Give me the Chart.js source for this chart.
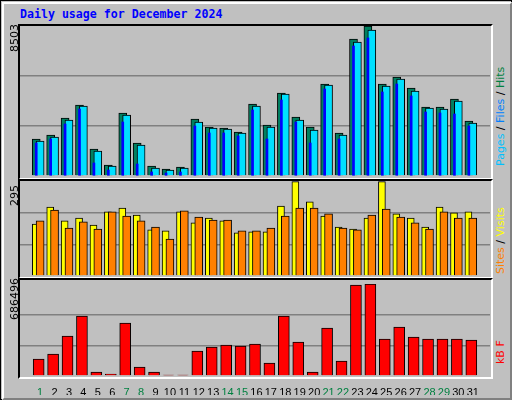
<!DOCTYPE html>
<html>
<head>
<meta charset="utf-8">
<script src="https://cdn.jsdelivr.net/npm/chart.js@4.4.1/dist/chart.umd.min.js"></script>
<style>
  body { margin: 0; background: #fff; }
  #frame { position: absolute; left: 0; top: 0; width: 510px; height: 398px; background: #c0c0c0;
           border: 1px solid #000; }
  #inner { position: absolute; left: 1px; top: 1px; width: 506px; height: 394px;
           border-top: 2px solid #fff; border-left: 2px solid #fff;
           border-right: 2px solid #808080; border-bottom: 2px solid #808080; }
  canvas { position: absolute; }
  .panel { position: absolute; border-top: 2px solid #000; border-left: 2px solid #000;
           border-right: 2px solid #fff; border-bottom: 2px solid #fff; box-sizing: border-box; }
  .txt { position: absolute; font-family: "DejaVu Sans", sans-serif; font-size: 11px; white-space: nowrap;
         transform-origin: 0 0; transform: rotate(-90deg); }
  #title { position: absolute; left: 20px; top: 7px; font-family: "DejaVu Sans Mono", monospace;
           font-weight: bold; font-size: 11.6px; color: #0000ff; }
</style>
</head>
<body>
<div id="frame"><div id="inner"></div></div>
<div id="title">Daily usage for December 2024</div>
<div class="panel" style="left:18px;top:24px;width:475px;height:156px"></div>
<div class="panel" style="left:18px;top:179px;width:475px;height:100px"></div>
<div class="panel" style="left:18px;top:278px;width:475px;height:101px"></div>
<canvas id="c1" style="left:20px;top:26px" width="470" height="150"></canvas>
<canvas id="c2" style="left:20px;top:181px" width="470" height="95"></canvas>
<canvas id="c3" style="left:20px;top:284px" width="470" height="111"></canvas>
<div class="txt" style="left:8px;top:52px;color:#000">8503</div>
<div class="txt" style="left:8px;top:206px;color:#000">295</div>
<div class="txt" style="left:8px;top:320px;color:#000">686496</div>
<div class="txt" style="left:494px;top:166px"><span style="color:#00c0ff">Pages</span> / <span style="color:#0080ff">Files</span> / <span style="color:#008040">Hits</span></div>
<div class="txt" style="left:494px;top:274px"><span style="color:#ff8000">Sites</span> / <span style="color:#ffff00">Visits</span></div>
<div class="txt" style="left:494px;top:364px;color:#ff0000">kB F</div>
<script>
const days = Array.from({length: 31}, (_, i) => i + 1);
const weekends = [1, 7, 8, 14, 15, 21, 22, 28, 29];

const hits = [2097, 2324, 3288, 4025, 1531, 624, 3572, 1871, 567, 397, 510, 3231, 2778, 2721, 2494, 4082,
              2891, 4705, 3345, 2778, 5216, 2438, 7767, 8503, 5216, 5613, 4989, 3912, 3912, 4365, 3118];
const files = [1984, 2211, 3175, 3968, 1417, 567, 3458, 1757, 454, 340, 454, 3061, 2721, 2664, 2438, 3968,
               2778, 4649, 3175, 2608, 5159, 2324, 7597, 8277, 5102, 5499, 4819, 3855, 3798, 4252, 3005];
const pages = [1871, 2097, 2948, 3798, 737, 340, 3061, 680, 227, 170, 227, 2835, 2438, 2438, 2268, 3742,
               2097, 4309, 3061, 1871, 4932, 2097, 7370, 7823, 4762, 5216, 4535, 3628, 3572, 3515, 2835];
const visits = [161, 214, 171, 180, 158, 199, 211, 189, 143, 140, 199, 165, 180, 171, 134, 137,
                137, 217, 293, 230, 186, 152, 146, 180, 293, 193, 180, 152, 214, 196, 199];
const sites = [171, 205, 149, 168, 146, 199, 186, 171, 152, 115, 202, 183, 174, 174, 140, 140,
               149, 186, 211, 211, 193, 149, 143, 189, 208, 183, 165, 146, 199, 180, 180];
const kbytes = [126854, 164164, 298480, 447720, 29848, 14924, 395486, 67158, 29848, 7462, 7462, 186550,
                216398, 231322, 223860, 238784, 97006, 447720, 253708, 29848, 358176, 111930, 679042,
                686496, 276094, 365638, 291018, 276094, 276094, 276094, 268632];

const maxHits = 8503, maxVisits = 295, maxKB = 686496;

function pts(vals, shift) { return vals.map((v, i) => ({x: days[i] + shift, y: v})); }

function bar(label, vals, shift, color, width, order, border) {
    return { label, data: pts(vals, shift), backgroundColor: color, borderColor: '#000',
             borderWidth: border, barThickness: width, order, grouped: false };
}

function opts(max, showX) {
    return {
        responsive: false, animation: false, events: [],
        layout: { padding: 0 },
        plugins: { legend: { display: false }, tooltip: { enabled: false } },
        scales: {
            x: { type: 'linear', min: 0.13, max: 31.67, display: showX,
                 grid: { display: false }, border: { display: false },
                 afterBuildTicks: s => { s.ticks = days.map(d => ({value: d})); },
                 afterFit: s => { s.height = showX ? 19 : 0; },
                 ticks: { autoSkip: false, maxRotation: 0, padding: 2,
                          font: { family: 'Liberation Sans', size: 11 },
                          color: c => weekends.includes(c.tick.value) ? '#008040' : '#000' } },
            y: { min: 0, max: max, display: true,
                 afterBuildTicks: s => { s.ticks = [0, max / 3, 2 * max / 3, max].map(v => ({value: v})); },
                 afterFit: s => { s.width = 0; },
                 ticks: { display: false }, border: { display: false },
                 grid: { drawTicks: false, lineWidth: 1.5,
                         color: c => (c.index === 1 || c.index === 2) ? '#808080' : 'rgba(0,0,0,0)' } }
        }
    };
}

new Chart(document.getElementById('c1'), {
    type: 'bar',
    data: { datasets: [
        bar('Pages', pages, -0.27, '#0000ff', 2, 1, 0),
        bar('Files', files, 0, '#00e0ff', 8, 2, 1),
        bar('Hits', hits, -0.27, '#008060', 8, 3, 1)
    ] },
    options: opts(maxHits, false)
});

new Chart(document.getElementById('c2'), {
    type: 'bar',
    data: { datasets: [
        bar('Sites', sites, 0, '#ff8000', 8, 1, 1),
        bar('Visits', visits, -0.3, '#ffff00', 7, 2, 1)
    ] },
    options: opts(maxVisits, false)
});

new Chart(document.getElementById('c3'), {
    type: 'bar',
    data: { datasets: [ bar('kB F', kbytes, -0.1, '#ff0000', 11, 1, 1) ] },
    options: opts(maxKB, true)
});
</script>
</body>
</html>
